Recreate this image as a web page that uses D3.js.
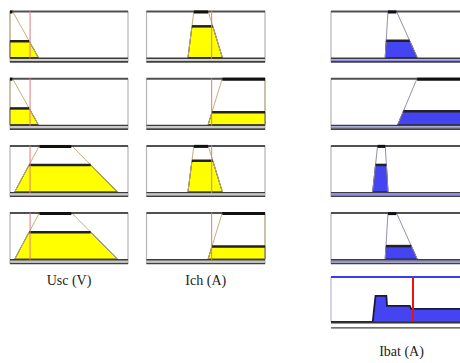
<!DOCTYPE html>
<html>
<head>
<meta charset="utf-8">
<script src="https://cdn.jsdelivr.net/npm/d3@7/dist/d3.min.js"></script>
<style>
  html, body { margin: 0; padding: 0; background: #fff; }
  svg { display: block; }
</style>
</head>
<body>
<svg id="chart" width="460" height="363"></svg>
<script>
// Fuzzy rule viewer: two inputs (Usc, Ich) and one output (Ibat), four rules.
// Membership functions are trapezoids [a, b, c, d] on a 0–100 universe.
const columnLabels = ["Usc (V)", "Ich (A)", "Ibat (A)"];

const uscMF = [[0, 0, 2, 24], [0, 0, 2, 24], [4, 25, 52, 91], [4, 25, 52, 91]];
const uscInput = 17;
const uscDegree = [0.35, 0.35, 0.58, 0.58];

const ichMF = [[35, 40, 52, 64], [52, 64, 100, 100], [35, 40, 52, 64], [52, 64, 100, 100]];
const ichInput = 55;
const ichDegree = [0.67, 0.27, 0.67, 0.27];

const ibatMF = [[39, 41, 47, 62], [48, 62, 100, 100], [30, 33.5, 39, 41], [39, 41, 47, 62]];
const ruleStrength = [0.36, 0.29, 0.58, 0.28];
const ibatOutput = 59;

const svg = d3.select("#chart");

const xUsc = d3.scaleLinear().domain([0, 100]).range([10, 128]);
const xIch = d3.scaleLinear().domain([0, 100]).range([146.5, 265]);
const xIbat = d3.scaleLinear().domain([0, 100]).range([331, 470]);

const rowTop = i => 11 + i * 67.2;
const rowH = 46.5;
const yRow = i => d3.scaleLinear().domain([0, 1]).range([rowTop(i) + rowH, rowTop(i)]);

function trap(x, [a, b, c, d]) {
  if (x < a || x > d) return 0;
  if (x < b) return (x - a) / (b - a);
  if (x <= c) return 1;
  if (d === c) return 1;
  return (d - x) / (d - c);
}

const line = d3.line();

function drawPanel(g, x, y, mf, level, opts) {
  const [x0, x1] = x.range();
  const top = y(1), base = y(0);
  // frame
  g.append("rect").attr("x", x0).attr("y", top).attr("width", x1 - x0).attr("height", base - top + 5)
    .attr("fill", "#fff");
  g.append("line").attr("x1", x0).attr("x2", x0).attr("y1", top).attr("y2", base + 5)
    .attr("stroke", "#b4b4b4").attr("stroke-width", 1.2);
  g.append("line").attr("x1", x1).attr("x2", x1).attr("y1", top).attr("y2", base + 5)
    .attr("stroke", "#b4b4b4").attr("stroke-width", 1.2);

  const [a, b, c, d] = mf;
  // clipped area
  const pts = [
    [x(a), y(0)],
    [x(a + level * (b - a)), y(level)],
    [x(d - level * (d - c)), y(level)],
    [x(d), y(0)]
  ];
  g.append("path").attr("d", line(pts) + "Z").attr("fill", opts.fill)
    .attr("stroke", "#222").attr("stroke-width", 1);
  // membership function outline
  g.append("path").attr("d", line([[x(a), y(0)], [x(b), y(1)], [x(c), y(1)], [x(d), y(0)]]))
    .attr("fill", "none").attr("stroke", opts.outline).attr("stroke-width", 1);
  // top border
  g.append("line").attr("x1", x0).attr("x2", x1).attr("y1", top + 0.5).attr("y2", top + 0.5)
    .attr("stroke", "#505050").attr("stroke-width", 2);
  // plateau at full membership
  g.append("line").attr("x1", x(b)).attr("x2", x(c)).attr("y1", top + 1).attr("y2", top + 1)
    .attr("stroke", "#111").attr("stroke-width", 3);
  // clip level edge
  g.append("line").attr("x1", pts[1][0]).attr("x2", pts[2][0]).attr("y1", y(level)).attr("y2", y(level))
    .attr("stroke", "#222").attr("stroke-width", 2.5);
  // bottom axis band
  g.append("line").attr("x1", x0).attr("x2", x1).attr("y1", base + 0.8).attr("y2", base + 0.8)
    .attr("stroke", "#3c3c3c").attr("stroke-width", 1.6);
  g.append("line").attr("x1", x0).attr("x2", x1).attr("y1", base + 2.6).attr("y2", base + 2.6)
    .attr("stroke", opts.band).attr("stroke-width", 1.8);
  g.append("line").attr("x1", x0).attr("x2", x1).attr("y1", base + 4.4).attr("y2", base + 4.4)
    .attr("stroke", "#404040").attr("stroke-width", 1.6);
  // input marker
  if (opts.input != null) {
    g.append("line").attr("x1", x(opts.input)).attr("x2", x(opts.input)).attr("y1", top).attr("y2", base + 1)
      .attr("stroke", "#e07a7a").attr("stroke-width", 1);
  }
}

const yellow = { fill: "#ffff00", outline: "#c4b07c", band: "#c8c8c8" };
const blue = { fill: "#4444f2", outline: "#9090b4", band: "#8c8cec" };

for (let i = 0; i < 4; i++) {
  const y = yRow(i);
  drawPanel(svg.append("g"), xUsc, y, uscMF[i], uscDegree[i], { ...yellow, input: uscInput });
  drawPanel(svg.append("g"), xIch, y, ichMF[i], ichDegree[i], { ...yellow, input: ichInput });
  drawPanel(svg.append("g"), xIbat, y, ibatMF[i], ruleStrength[i], { ...blue, input: null });
}

// aggregated output
const aggTop = 277, aggBase = 322;
const yAgg = d3.scaleLinear().domain([0, 1]).range([aggBase, aggTop]);
const gA = svg.append("g");
gA.append("line").attr("x1", xIbat(0)).attr("x2", xIbat(0)).attr("y1", aggTop).attr("y2", aggBase)
  .attr("stroke", "#b8b8d8").attr("stroke-width", 1.2);
const xs = d3.range(0, 100.001, 0.05);
const agg = xs.map(v => [v, d3.max(ibatMF, (mf, k) => Math.min(trap(v, mf), ruleStrength[k]))]);
gA.append("path")
  .attr("d", d3.area().x(d => xIbat(d[0])).y0(yAgg(0)).y1(d => yAgg(d[1]))(agg))
  .attr("fill", "#4444f2");
gA.append("path")
  .attr("d", d3.line().x(d => xIbat(d[0])).y(d => yAgg(d[1]))(agg))
  .attr("fill", "none").attr("stroke", "#1a1a3a").attr("stroke-width", 1.8);
gA.append("line").attr("x1", xIbat(0)).attr("x2", xIbat(100)).attr("y1", aggTop).attr("y2", aggTop)
  .attr("stroke", "#3a3af0").attr("stroke-width", 2);
gA.append("line").attr("x1", xIbat(0)).attr("x2", xIbat(100)).attr("y1", aggBase + 0.5).attr("y2", aggBase + 0.5)
  .attr("stroke", "#333").attr("stroke-width", 2);
gA.append("line").attr("x1", xIbat(0)).attr("x2", xIbat(100)).attr("y1", aggBase + 5.8).attr("y2", aggBase + 5.8)
  .attr("stroke", "#444").attr("stroke-width", 1.3);
gA.append("line").attr("x1", xIbat(ibatOutput)).attr("x2", xIbat(ibatOutput)).attr("y1", aggTop).attr("y2", aggBase)
  .attr("stroke", "#ee1111").attr("stroke-width", 2);

// column titles
const labelPos = [[xUsc(50), 285], [xIch(50), 285], [401.5, 356]];
svg.selectAll("text.col").data(columnLabels).join("text")
  .attr("class", "col")
  .attr("x", (d, i) => labelPos[i][0])
  .attr("y", (d, i) => labelPos[i][1])
  .attr("text-anchor", "middle")
  .attr("font-family", "'Liberation Serif', 'Times New Roman', serif")
  .attr("font-size", 14)
  .attr("fill", "#222")
  .text(d => d);
</script>
</body>
</html>
